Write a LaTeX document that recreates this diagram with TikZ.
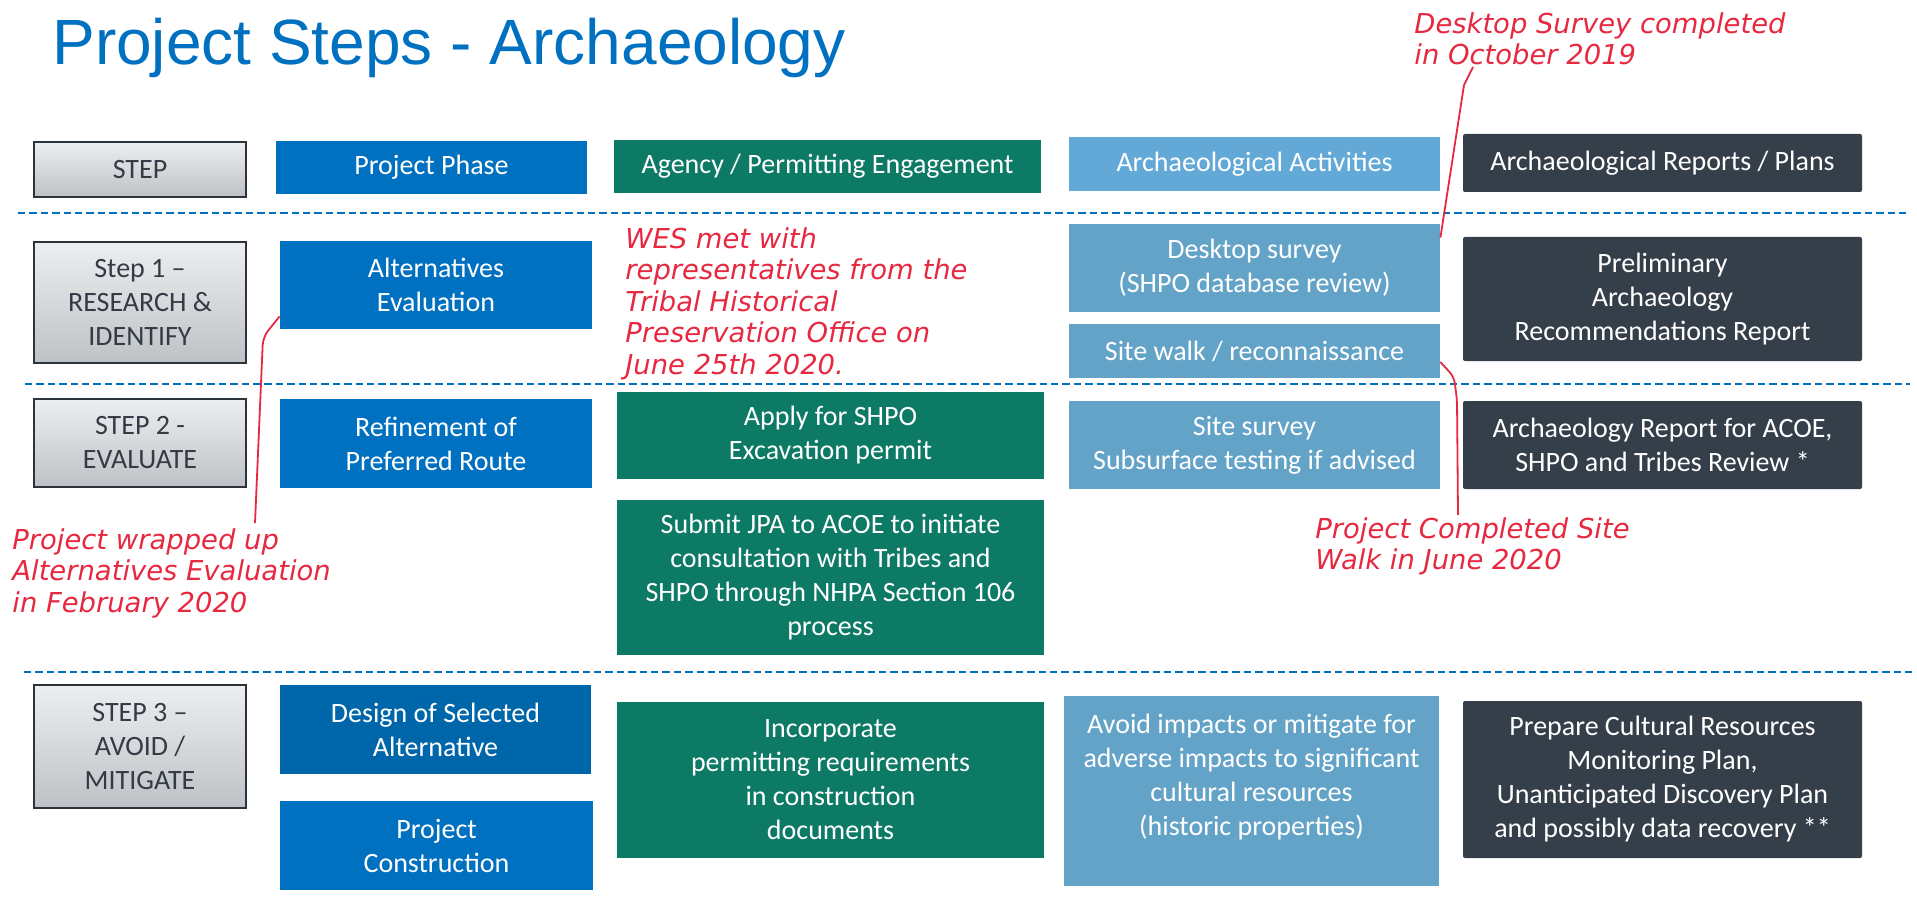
\documentclass[tikz,border=0pt]{standalone}
\usepackage{fontspec}
\setmainfont{Carlito}
\newfontfamily\titlefont{Liberation Sans}
\newfontfamily\notefont{DejaVu Sans}
\usetikzlibrary{calc}
\definecolor{phaseblue}{HTML}{0070C0}
\definecolor{designblue}{HTML}{0066AA}
\definecolor{agencygreen}{HTML}{0D7A66}
\definecolor{headblue}{HTML}{63A9D7}
\definecolor{actblue}{HTML}{64A3C8}
\definecolor{reportdark}{HTML}{353F4A}
\definecolor{steptop}{HTML}{EDEEF0}
\definecolor{stepbot}{HTML}{BEC1C5}
\definecolor{stepline}{HTML}{2D333B}
\definecolor{steptext}{HTML}{333C46}
\definecolor{notered}{HTML}{E62840}
\tikzset{
  wh/.style 2 args={minimum width=#1*0.5pt, minimum height=#2*0.5pt},
  boxfont/.style={font=\fontsize{14}{17}\selectfont},
  box/.style={rectangle, inner sep=2pt, align=center, text=white, boxfont},
  stepbox/.style={box, draw=stepline, line width=1.2pt,
    top color=steptop, bottom color=stepbot, text=steptext},
  phase/.style={box, fill=phaseblue},
  agency/.style={box, fill=agencygreen},
  activity/.style={box, fill=actblue},
  report/.style={box, fill=reportdark, rounded corners=1pt},
  note/.style={anchor=north west, inner sep=0pt, align=left, text=notered,
    font=\notefont\itshape\fontsize{13.7}{15.75}\selectfont},
  divider/.style={draw=phaseblue, line width=1pt, dash pattern=on 3.7pt off 2pt},
  leader/.style={draw=notered, line width=0.9pt}
}
\begin{document}
\begin{tikzpicture}[x=0.5pt, y=-0.5pt]
  \useasboundingbox (0,0) rectangle (1917,909);

  \node[anchor=base west, inner sep=0pt, text=phaseblue,
    font=\titlefont\fontsize{32}{36}\selectfont] (title) at (52,65)
    {Project Steps - Archaeology};

  % column headers
  \node[stepbox, wh={212}{55}] (stephd) at (140,169.5) {STEP};
  \node[phase, wh={311}{53}] (phasehd) at (431.5,167.5) {Project Phase};
  \node[agency, wh={427}{53}] (agencyhd) at (827.5,166.5) {Agency / Permitting Engagement};
  \node[activity, fill=headblue, wh={371}{54}] (acthd) at (1254.5,164) {Archaeological Activities};
  \node[report, wh={399}{58}] (rephd) at (1662.5,163) {Archaeological Reports / Plans};

  % row dividers
  \draw[divider] (18,213) -- (1910,213);
  \draw[divider] (25,384) -- (1910,384);
  \draw[divider] (24,672) -- (1915,672);

  % step 1
  \node[stepbox, wh={212}{121}] (step1) at (140,302.5) {Step 1 –\\RESEARCH \&\\IDENTIFY};
  \node[phase, wh={312}{88}] (alt) at (436,285) {Alternatives\\Evaluation};
  \node[activity, wh={371}{88}] (desk) at (1254.5,268) {Desktop survey\\(SHPO database review)};
  \node[activity, wh={371}{54}] (walk) at (1254.5,351) {Site walk / reconnaissance};
  \node[report, wh={399}{124}] (prelim) at (1662.5,299)
    {Preliminary\\Archaeology\\Recommendations Report};

  % step 2
  \node[stepbox, wh={212}{88}] (step2) at (140,443) {STEP 2 -\\EVALUATE};
  \node[phase, wh={312}{89}] (route) at (436,443.5) {Refinement of\\Preferred Route};
  \node[agency, wh={427}{87}] (permit) at (830.5,435.5) {Apply for SHPO\\Excavation permit};
  \node[agency, wh={427}{155}] (jpa) at (830.5,577.5)
    {Submit JPA to ACOE to initiate\\consultation with Tribes and\\SHPO through NHPA Section 106\\process};
  \node[activity, wh={371}{88}] (survey) at (1254.5,445) {Site survey\\Subsurface testing if advised};
  \node[report, wh={399}{88}] (acoe) at (1662.5,445)
    {Archaeology Report for ACOE,\\SHPO and Tribes Review *};

  % step 3
  \node[stepbox, wh={212}{123}] (step3) at (140,746.5) {STEP 3 –\\AVOID /\\MITIGATE};
  \node[phase, fill=designblue, wh={311}{89}] (design) at (435.5,729.5) {Design of Selected\\Alternative};
  \node[phase, wh={313}{89}] (build) at (436.5,845.5) {Project\\Construction};
  \node[agency, wh={427}{156}] (docs) at (830.5,780)
    {Incorporate\\permitting requirements\\in construction\\documents};
  % text sits high in this box
  \node[activity, wh={375}{190},
    label={[align=center, text=white, boxfont, yshift=7pt]center:Avoid impacts or mitigate for\\adverse impacts to significant\\cultural resources\\(historic properties)}]
    (avoid) at (1251.5,791) {};
  \node[report, wh={399}{157}] (monitor) at (1662.5,779.5)
    {Prepare Cultural Resources\\Monitoring Plan,\\Unanticipated Discovery Plan\\and possibly data recovery **};

  % handwritten notes
  \node[note] (desknote) at (1414,12) {Desktop Survey completed\\in October 2019};
  \node[note] (wesnote) at (625,227)
    {WES met with\\representatives from the\\Tribal Historical\\Preservation Office on\\June 25th 2020.};
  \node[note] (wrapnote) at (12,528) {Project wrapped up\\Alternatives Evaluation\\in February 2020};
  \node[note] (walknote) at (1315,517) {Project Completed Site\\Walk in June 2020};

  % leaders from notes to boxes
  \coordinate (desktip) at (1473,67);
  \coordinate (wraptip) at (255,523);
  \coordinate (walktip) at (1458,515);
  \draw[leader] (desktip) -- (1464,85) -- ([yshift=-7pt]desk.north east);
  \draw[leader, rounded corners=4pt] ([yshift=6.5pt]alt.south west) -- (263,337) -- (wraptip);
  \draw[leader, rounded corners=3pt] ([yshift=-5.5pt]walk.east) -- (1454,377) -- (1457,400) -- (walktip);
\end{tikzpicture}
\end{document}
